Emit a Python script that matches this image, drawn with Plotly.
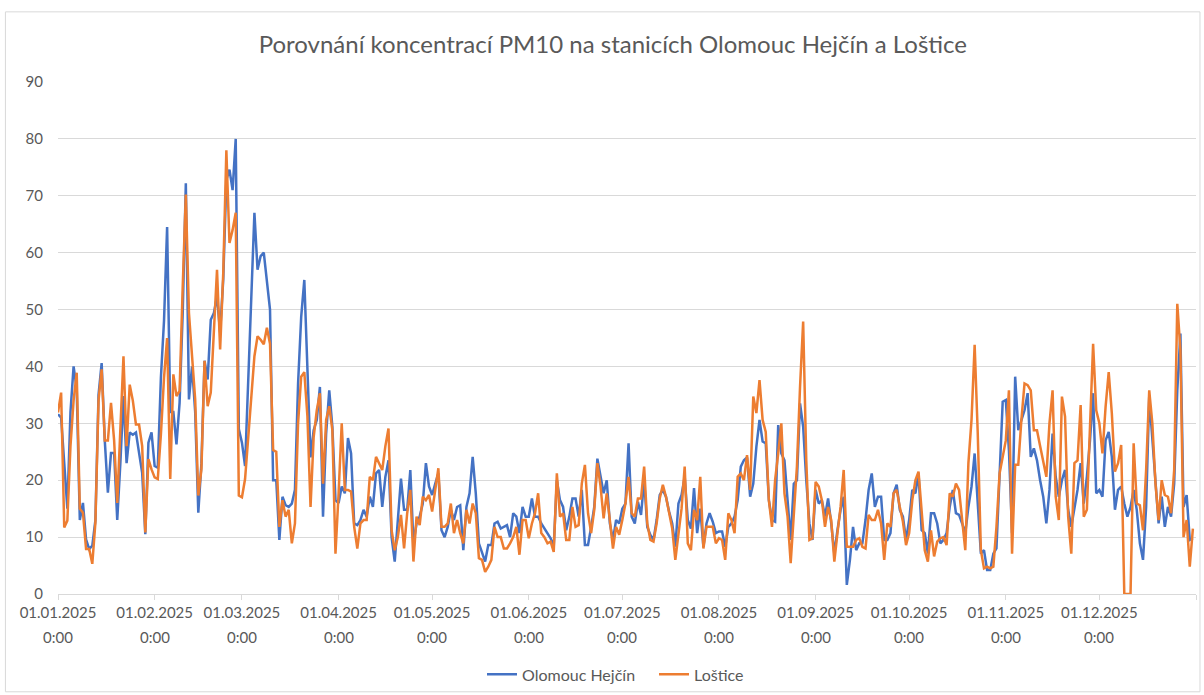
import pandas as pd
import plotly.graph_objects as go

dates = pd.date_range("2025-01-01", "2025-12-31", freq="D")

olomouc_hejcin = [
    31.6, 31, 23, 15, 32, 40, 36, 13, 16, 9.6, 7.9, 8.5, 13, 35, 40.6, 27, 17.8, 24.8, 24.8, 13,
    23, 34.8, 23, 28.4, 28, 28.4, 24.8, 21.3, 10.5, 26.6, 28.4, 22.5, 22.2, 38, 48, 64.5, 32, 32, 26.3, 33.6,
    49.4, 72.2, 34.2, 40, 32, 14.3, 23, 41, 37.7, 48.2, 49.4, 52.3, 46, 55.3, 72.8, 74.6, 71, 80, 29, 26.6,
    22.5, 37.7, 55.3, 67, 57, 59.4, 60, 55.3, 50, 20, 20, 9.5, 17.1, 15.6, 15.3, 15.9, 18.3, 37, 48.7, 55.2,
    40, 24, 28.8, 30.6, 36.4, 13.6, 28.2, 35.8, 29.4, 16.5, 16, 18.9, 17.7, 27.4, 24.7, 12.4, 12.1, 13, 14.8, 13.6,
    17.1, 15.3, 21.2, 21.8, 15.3, 20.6, 23.5, 10, 5.7, 13, 20.3, 14.8, 14.8, 21.8, 8.9, 12.4, 13.6, 15.9, 23, 18.9,
    17.4, 19.4, 21.2, 11.2, 10, 11.8, 14.8, 13, 15.3, 15.6, 7.7, 15.3, 17.7, 24.1, 17.7, 8.9, 7.1, 5.7, 8.6, 8.6,
    12.4, 12.7, 11.5, 11.8, 12.1, 10, 14.2, 13.6, 10.7, 15.3, 13.6, 13.6, 16.8, 13.6, 13.6, 12.4, 11.5, 10.7, 9.8, 8.3,
    20, 16.5, 15.3, 11.2, 13.6, 16.8, 16.8, 13.6, 18.3, 8.6, 8.6, 11.8, 15.3, 23.8, 21, 17.7, 20, 12.4, 9.5, 13,
    12.4, 15, 15.9, 26.5, 13.6, 12.4, 16.2, 13.9, 20, 11.8, 10.4, 9.5, 13, 17.4, 18.3, 17.1, 14.5, 12.4, 8.3, 15.9,
    17.4, 20.6, 13, 11.5, 18.6, 10.7, 15, 8.3, 12.4, 14.2, 12.7, 10.7, 11, 11, 8.3, 11.8, 12.4, 13.6, 16.5, 22.4,
    23.5, 24, 17.1, 19.4, 25.9, 30.6, 26.8, 26.5, 16.5, 13, 12.7, 29.7, 24.7, 23.5, 16.5, 9.5, 19.4, 20, 33.5, 29.4,
    20, 12.4, 9.5, 18.3, 15.9, 16.5, 13.6, 16.8, 12.4, 7.1, 11.2, 14.8, 17.1, 1.6, 6, 11.8, 7.7, 8.9, 8.9, 13,
    18.3, 21.2, 15.3, 17.1, 17.1, 9.5, 9.5, 10.7, 17.7, 19.2, 14.8, 13.6, 9.5, 13, 18.3, 17.7, 21.2, 11.2, 10.7, 7.1,
    14.2, 14.2, 12.4, 8.9, 9.5, 10.7, 15.3, 18.3, 14.2, 13.9, 12.4, 10.7, 15.3, 18.9, 24.7, 15.3, 7.1, 7.7, 4.2, 4.2,
    7.1, 8, 22.4, 33.8, 34.1, 25.3, 10.7, 38.2, 28.8, 30.6, 32.3, 35.3, 24.1, 25.6, 23.5, 20, 17.1, 12.4, 18.3, 28.2,
    20.6, 17.1, 20, 21.8, 14.8, 11.8, 14.8, 18.3, 23, 15.9, 20.6, 27, 35.3, 17.7, 18.3, 17.1, 27, 28.5, 24.1, 14.8,
    18.3, 18.9, 15.9, 13.6, 15.3, 18.3, 14.8, 8.9, 6, 15.3, 34.7, 27, 18.9, 12.4, 17.1, 11.8, 15.3, 13.6, 19.4, 35.8,
    45.8, 15.3, 17.4, 9.5, 9.8,
]

lostice = [
    31.9, 35.4, 11.7, 12.9, 26, 34, 38.9, 15, 14.3, 7.9, 7.9, 5.3, 12.6, 34, 39.5, 27, 27, 33.6, 27, 16,
    29, 41.8, 26, 36.8, 34, 29.8, 29.8, 26, 10.8, 23.7, 21.9, 20.5, 20.2, 28, 38, 45, 20.2, 38.6, 34.8, 35.7,
    54, 70.2, 49.4, 42.4, 34.2, 17.3, 21.9, 41, 33, 35.4, 47, 57, 43, 56.4, 78, 61.7, 64, 67, 17.3, 17,
    20.2, 27, 34.8, 41.8, 45.3, 44.7, 43.9, 46.8, 44, 25.3, 25, 11.8, 16.5, 13.6, 14.8, 8.9, 12.4, 30, 38.2, 39,
    31.2, 15.3, 27.6, 32.3, 35.3, 19.4, 30.6, 33, 28.8, 7.1, 17.7, 30, 18.3, 18.3, 18, 11.8, 8, 12.4, 13, 13,
    20.6, 20, 24.1, 23, 21.8, 26, 29.1, 11.2, 7.7, 10, 13.9, 8, 14.2, 18.3, 5.7, 13.6, 12.1, 17.1, 16.5, 17.4,
    14.5, 18.3, 22.1, 11.8, 11.8, 12.4, 15.9, 10.7, 13, 10.7, 8.9, 14.8, 12.4, 15.9, 14.2, 6.3, 6, 3.9, 4.8, 6,
    11.8, 10, 10, 8, 8, 8.9, 10, 11.8, 6.9, 13, 13, 9.8, 12.4, 14.2, 17.7, 10.7, 10, 8.9, 9.2, 7.4,
    21.2, 13.6, 14.2, 9.5, 9.5, 15.3, 11.8, 12.1, 19.4, 22.7, 14.2, 10.7, 14.8, 23, 19, 13.3, 17.7, 13, 8, 11.8,
    10.4, 13, 15.9, 20.6, 14.2, 13.6, 16.8, 16.8, 22.4, 12.4, 9.5, 9.2, 12.4, 16.8, 19.2, 17.1, 14.2, 11.5, 6, 10.7,
    15, 22.4, 8.9, 7.7, 14.8, 13, 20.6, 8, 11.8, 11.8, 11.8, 8.9, 9.8, 9.5, 6, 14.2, 13, 10.7, 20.6, 21.2,
    20, 24.4, 18.3, 34.7, 31.8, 37.6, 30.6, 28.5, 16.5, 11.8, 20, 24.7, 30, 17.7, 13.6, 5.4, 13.6, 22.4, 36.4, 47.9,
    23.5, 9.5, 9.8, 19.7, 18.9, 16.5, 11.8, 15.3, 13, 5.7, 10.7, 15.3, 21.8, 8.3, 8.3, 8.3, 9.5, 9.8, 8.3, 8,
    13.9, 13, 13, 14.8, 12.4, 6, 12.4, 11.8, 17.7, 18.3, 15.3, 12.7, 8.6, 10.7, 16.5, 20, 21.5, 14.2, 7.7, 5.7,
    11.2, 6.6, 9.2, 9.8, 10, 8.6, 17.7, 17.1, 19.4, 18.3, 12.4, 7.7, 23, 30.6, 43.8, 28.2, 7.7, 4.5, 4.8, 4.5,
    4.8, 11.8, 21.2, 24.1, 27, 35.8, 7.1, 22.7, 22.7, 30.6, 37, 36.7, 35.8, 28.8, 28.8, 26, 23, 20.6, 30, 35.8,
    17.1, 13, 34.7, 31.2, 13.6, 7.1, 23, 23.5, 33.2, 13.6, 14.8, 31.2, 44, 32.3, 30, 24.7, 32.9, 39, 31.8, 21.5,
    23, 26.2, 0, 0, 0, 26.5, 15.9, 15.6, 11.2, 21.8, 35.8, 30, 19.4, 13, 20, 17.4, 17.1, 14.2, 21.8, 51,
    42.9, 10, 13, 4.8, 11.5,
]

series_names = ["Olomouc Hejčín", "Loštice"]
series_colors = ["#4472C4", "#ED7D31"]

tick_dates = pd.date_range("2025-01-01", "2026-01-01", freq="MS")
tick_labels = [d.strftime("%d.%m.%Y") for d in tick_dates[:-1]] + [""]
tick_time = "0:00"

title_text = "Porovnání koncentrací PM10 na stanicích Olomouc Hejčín a Loštice"

FONT = "Lato"
GREY = "#595959"
GRID = "#D9D9D9"

fig = go.Figure()
for name, vals, col in zip(series_names, [olomouc_hejcin, lostice], series_colors):
    fig.add_trace(go.Scatter(x=dates, y=vals, mode="lines", name=name,
                             line=dict(color=col, width=2.5)))

fig.update_layout(
    width=1204, height=695,
    margin=dict(l=58, r=8, t=82, b=101, autoexpand=False),
    paper_bgcolor="white", plot_bgcolor="white",
    font=dict(family=FONT, color=GREY, size=15),
    title=dict(text=title_text, x=0.509, xanchor="center", y=0.936, yanchor="middle",
               font=dict(family=FONT, size=24, color=GREY)),
    showlegend=True,
    legend=dict(orientation="h", x=(482 - 58) / 1138, xanchor="left", y=-0.157, yanchor="middle",
                font=dict(family=FONT, size=16, color=GREY), itemwidth=30,
                entrywidth=127, entrywidthmode="pixels"),
    xaxis=dict(range=["2025-01-01", "2026-01-01"], tickvals=tick_dates, ticktext=tick_labels,
               showgrid=False, showline=True, linecolor=GRID, linewidth=1,
               ticks="outside", ticklen=5, tickcolor=GRID, tickangle=0,
               tickfont=dict(family=FONT, size=15, color=GREY), zeroline=False),
    yaxis=dict(range=[0, 90], dtick=10, tick0=0, showgrid=True, gridcolor=GRID, gridwidth=1,
               zeroline=False, showline=False, ticks="", ticklabelstandoff=14,
               tickfont=dict(family=FONT, size=15, color=GREY)),
)

for d in tick_dates[:-1]:
    fig.add_annotation(x=d, xref="x", y=0, yref="paper", yshift=-43, yanchor="middle",
                       text=tick_time, showarrow=False,
                       font=dict(family=FONT, size=15, color=GREY))

fig.add_shape(type="rect", xref="paper", yref="paper",
              x0=-0.0462, x1=1.0035, y0=-0.191, y1=1.137,
              line=dict(color=GRID, width=1), fillcolor="rgba(0,0,0,0)", layer="below")

fig.write_html("out.html", config={"displayModeBar": False},
               post_script="document.body.style.margin='0';")
